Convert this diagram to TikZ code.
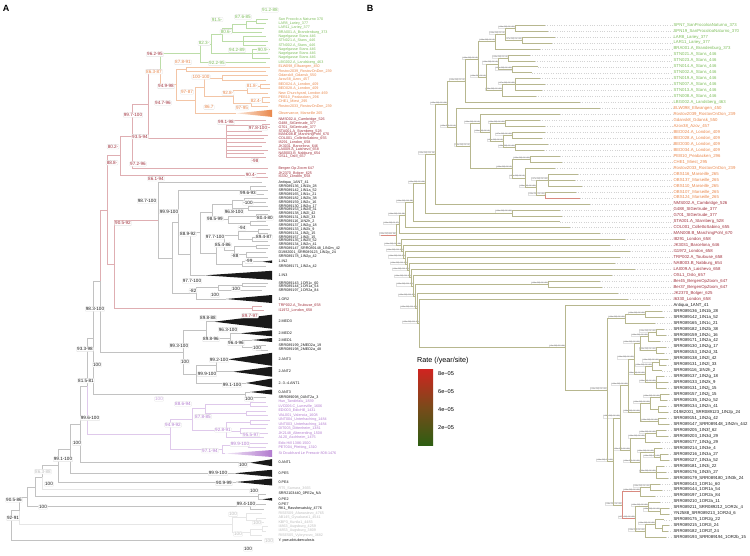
\documentclass[tikz,border=0pt]{standalone}
\usepackage{fontspec}
\setmainfont{Liberation Sans}
\definecolor{gT}{HTML}{7DBD5A}\definecolor{gL}{HTML}{BCDDA8}
\definecolor{oT}{HTML}{E9874B}\definecolor{oL}{HTML}{F3C5A6}
\definecolor{rT}{HTML}{A0303C}\definecolor{rL}{HTML}{DFAEB2}
\definecolor{kT}{HTML}{1A1A1A}\definecolor{kL}{HTML}{C2C2C2}
\definecolor{pT}{HTML}{B27BCF}\definecolor{pL}{HTML}{DFC9EB}
\definecolor{hT}{HTML}{BDBDBD}\definecolor{hL}{HTML}{E6E6E6}
\definecolor{bL}{HTML}{B7B78F}\definecolor{bR}{HTML}{D98A80}
\definecolor{dotc}{HTML}{D3D3D3}\definecolor{boxc}{HTML}{E2E2E2}
\definecolor{legtop}{HTML}{D02420}\definecolor{legmid}{HTML}{7A4A1A}\definecolor{legbot}{HTML}{2E5E12}
\tikzset{
 alab/.style={anchor=west,inner sep=0.3pt,font=\fontsize{3.7}{4}\selectfont},
 blab/.style={anchor=west,inner sep=0.4pt,font=\fontsize{4.3}{5}\selectfont},
 bsbox/.style={draw=boxc,fill=white,rounded corners=0.8pt,inner sep=0.7pt,line width=0.3pt,font=\fontsize{4.6}{5}\selectfont},
 brl/.style={draw=boxc,fill=white,inner sep=0.3pt,line width=0.2pt,font=\fontsize{1.8}{2}\selectfont,text=black!70,anchor=south east},
 bline/.style={draw=bL,line width=0.45pt},
 leader/.style={draw=dotc,dotted,line width=0.35pt},
 panel/.style={font=\bfseries\fontsize{9}{10}\selectfont,inner sep=0pt},
 legtick/.style={anchor=west,inner sep=0pt,font=\fontsize{5.6}{6}\selectfont},
}
\newcommand{\aLeaf}[5]{\coordinate (#1) at (#3,#2);\node[alab,text=#4] (#1l) at (278,#2) {#5};}
\newcommand{\aTri}[7]{\coordinate (#1) at (#3,#2);\fill[#5] (#1) -- (272,{#2-#4}) -- (272,{#2+#4}) -- cycle;\node[alab,text=#6] (#1l) at (278,#2) {#7};}
\newcommand{\aTriS}[7]{\coordinate (#1) at (#3,#2);\shade[left color=#5,right color=#6] (#1) -- (272,{#2-#4}) -- (272,{#2+#4}) -- cycle;\node[alab,text=#6] (#1l) at (278,#2) {#7};}
\newcommand{\aNode}[3]{\coordinate (#1) at (#2,#3);}
\newcommand{\aEdge}[3]{\draw[#1,line width=0.45pt] (#2) |- (#3);}
\newcommand{\bsb}[5]{\node[bsbox,text=#4] (#1) at (#2,#3) {#5};}
\newcommand{\bLeaf}[4]{\coordinate (b#1) at (#2,{25+(#1-1)*5.96});\node[blab,text=#3] (bl#1) at (673,{25+(#1-1)*5.96}) {#4};\draw[leader] (b#1) -- (bl#1.west);}
\newcommand{\bNode}[4]{\coordinate (#1) at (#2,{25+(#3-1)*5.96});\node[brl] (t#1) at (#1) {#4};}
\newcommand{\bNodeN}[3]{\coordinate (#1) at (#2,{25+(#3-1)*5.96});}
\newcommand{\bEdge}[2]{\draw[bline] (#1) |- (#2);}
\newcommand{\bEdgeR}[2]{\draw[bline,draw=bR] (#1) |- (#2);}
\begin{document}
\begin{tikzpicture}[x=1pt,y=-1pt]
\useasboundingbox (0,0) rectangle (750,555);
\node[panel] (PA) at (6,8) {A};
\node[panel] (PB) at (370,8) {B};
% ================= PANEL A : leaves =================
\aLeaf{g1}{19.3}{268}{gT}{San Procolo a Naturno 370}
\aLeaf{g2}{23.6}{266}{gT}{LAR8\_Lariey\_377}
\aLeaf{g3}{27.9}{264}{gT}{LAR11\_Lariey\_377}
\aLeaf{g4}{32.2}{262}{gT}{BRA001.A\_Brandenburg\_373}
\aLeaf{g5}{36.5}{266}{gT}{Nagelgasse Stans 446}
\aLeaf{g6}{40.8}{268}{gT}{STN021.A\_Stans\_446}
\aLeaf{g7}{45.1}{266}{gT}{STN002.A\_Stans\_446}
\aLeaf{g8}{49.4}{270}{gT}{Nagelgasse Stans 446}
\aLeaf{g9}{53.7}{268}{gT}{Nagelgasse Stans 446}
\aLeaf{g10}{58.0}{270}{gT}{Nagelgasse Stans 446}
\aLeaf{g11}{62.3}{266}{gT}{LBG002.A\_Landsberg\_463}
\aLeaf{o1}{67.0}{270}{oT}{ELW098\_Ellwangen\_450}
\aLeaf{o2}{71.3}{266}{oT}{Rostov2039\_RostovOnDon\_239}
\aLeaf{o3}{75.7}{268}{oT}{Gdansk8\_Gdansk\_550}
\aLeaf{o4}{80.0}{266}{oT}{Azov38\_Azov\_457}
\aLeaf{o5}{84.3}{270}{oT}{BED024.A\_London\_409}
\aLeaf{o6}{88.7}{270}{oT}{BED028.A\_London\_409}
\aLeaf{o7}{93.1}{268}{oT}{New Churchyard, London 469}
\aLeaf{o8}{97.6}{270}{oT}{PEB10\_Peabacken\_296}
\aLeaf{o9}{102.0}{270}{oT}{CHE1\_Miest\_295}
\aLeaf{o10}{106.5}{268}{oT}{Rostov2033\_RostovOnDon\_239}
\aTriS{o11}{113.3}{236}{3.6}{oL!40}{oT}{Observance, Marseille 265}
\aLeaf{r1}{120.0}{266}{rT}{NMS002.A\_Cambridge\_526}
\aLeaf{r2}{123.8}{270}{rT}{G488\_StGertrude\_377}
\aLeaf{r3}{127.6}{270}{rT}{G701\_StGertrude\_377}
\aLeaf{r4}{131.3}{262}{rT}{STA001.A\_Starnberg\_528}
\aLeaf{r5}{135.0}{268}{rT}{MAN008.B\_MarchingPohl\_670}
\aLeaf{r6}{138.7}{264}{rT}{COL001\_CollettoSabino\_655}
\aLeaf{r7}{142.4}{266}{rT}{I8291\_London\_658}
\aLeaf{r8}{146.1}{262}{rT}{JK3031\_Barcelona\_646}
\aLeaf{r9}{149.8}{268}{rT}{LAI009.A\_Laishevo\_658}
\aLeaf{r10}{153.4}{264}{rT}{NAB003.B\_Nabburg\_654}
\aLeaf{r11}{157.0}{266}{rT}{OSL1\_Oslo\_657}
\aLeaf{r12}{168.3}{268}{rT}{Bergen Op Zoom 647}
\aLeaf{r13}{173.3}{266}{rT}{JK2370\_Bolger\_625}
\aLeaf{r14}{177.0}{268}{rT}{I6330\_London\_658}
\aLeaf{k0}{182.7}{262}{kT}{Antiqua\_1ANT\_41}
\aLeaf{k1}{186.7}{266}{kT}{SRR089136\_1IN1b\_28}
\aLeaf{k2}{190.6}{268}{kT}{SRR089142\_1IN1a\_52}
\aLeaf{k3}{194.4}{264}{kT}{SRR089165\_1IN1c\_21}
\aLeaf{k4}{198.3}{268}{kT}{SRR089182\_1IN2b\_38}
\aLeaf{k5}{202.2}{266}{kT}{SRR089159\_1IN2c\_16}
\aLeaf{k6}{206.1}{268}{kT}{SRR089130\_1IN2g\_17}
\aLeaf{k7}{210.0}{270}{kT}{SRR089153\_1IN2d\_31}
\aLeaf{k8}{213.8}{268}{kT}{SRR089138\_1IN2l\_42}
\aLeaf{k9}{217.7}{270}{kT}{SRR089131\_1IN2l\_33}
\aLeaf{k10}{221.6}{266}{kT}{SRR089116\_1IN2h\_2}
\aLeaf{k11}{225.4}{268}{kT}{SRR089137\_1IN2g\_18}
\aLeaf{k12}{229.3}{270}{kT}{SRR089133\_1IN2k\_9}
\aLeaf{k13}{233.2}{268}{kT}{SRR089131\_1IN2j\_15}
\aLeaf{k14}{237.1}{266}{kT}{SRR089157\_1IN2j\_15}
\aLeaf{k15}{240.9}{268}{kT}{SRR089135\_1IN2o\_52}
\aLeaf{k16}{244.8}{270}{kT}{SRR089134\_1IN2n\_41}
\aLeaf{k17}{248.3}{268}{kT}{SRR089147\_SRR089148\_1IN2m\_42}
\aLeaf{k18}{252.4}{266}{kT}{D1982001\_SRR089123\_1IN2p\_24}
\aLeaf{k19}{257.0}{268}{kT}{SRR089178\_1IN2p\_42}
\aTri{k20}{261.7}{262}{1.3}{kT}{kT}{1.IN2}
\aLeaf{k21}{266.7}{266}{kT}{SRR089171\_1IN2a\_42}
\aTri{k22}{275.3}{205}{4.5}{kT}{kT}{1.IN3}
\aLeaf{k23}{283.3}{268}{kT}{SRR089143\_1OR1c\_60}
\aLeaf{k24}{286.7}{266}{kT}{SRR089144\_1OR1a\_54}
\aLeaf{k25}{290.1}{262}{kT}{SRR089197\_1OR2a\_84}
\aTri{k26}{299.0}{226}{4}{kT}{kT}{1.OR2}
\aLeaf{t1}{306.0}{262}{rT}{TRP002.A\_Toulouse\_658}
\aLeaf{t2}{310.3}{264}{rT}{I11972\_London\_658}
\aTri{e1}{321.7}{214}{7}{kT}{kT}{2.MED3}
\aTri{e2}{333.3}{240}{3}{kT}{kT}{2.MED2}
\aTri{e3}{340.0}{252}{2}{kT}{kT}{2.MED1}
\aLeaf{e4}{345.3}{266}{kT}{SRR089199\_2MED2a\_19}
\aLeaf{e5}{350.0}{268}{kT}{SRR089198\_2MED2a\_48}
\aTri{e6}{359.3}{228}{6.5}{kT}{kT}{2.ANT3}
\aTri{e7}{371.7}{233}{5}{kT}{kT}{2.ANT2}
\aTri{e8}{383.0}{246}{4.5}{kT}{kT}{2.-3.-4.ANT1}
\aTri{e9}{392.0}{250}{2.5}{kT}{kT}{0.ANT3}
\aLeaf{e10}{397.3}{266}{kT}{SRR089098\_0ANT2a\_3}
\aLeaf{p1}{402.0}{266}{pT}{Hun\_Tandirfalu\_1839}
\aLeaf{p2}{406.5}{268}{pT}{LVC006.C\_Luneville\_1606}
\aLeaf{p3}{410.9}{266}{pT}{EDI003\_EdixHill\_1431}
\aLeaf{p4}{415.3}{268}{pT}{VAL001\_Valencia\_1608}
\aLeaf{p5}{419.8}{270}{pT}{UNT004\_Unterhaching\_1484}
\aLeaf{p6}{424.2}{268}{pT}{UNT003\_Unterhaching\_1484}
\aLeaf{p7}{428.7}{266}{pT}{DIT003\_Dittenheim\_1381}
\aLeaf{p8}{433.1}{268}{pT}{JK2148\_Altenerding\_1508}
\aLeaf{p9}{437.5}{264}{pT}{A120\_Aschheim\_1475}
\aLeaf{p10}{443.3}{268}{pT}{Edix Hill 1386-1500}
\aLeaf{p11}{447.5}{266}{pT}{PET004\_Pfetting\_1310}
\aTriS{p12}{453.5}{225}{3.5}{pL!40}{pT}{St Doulchard Le Pressoir 808-1476}
\aTri{x1}{462.7}{250}{3.5}{kT}{kT}{0.ANT1}
\aTri{x2}{473.3}{234}{3.5}{kT}{kT}{0.PE5}
\aTri{x3}{482.0}{236}{3.5}{kT}{kT}{0.PE4}
\aLeaf{x4}{489.0}{258}{hT}{RT5\_Samara\_3665}
\aLeaf{x5}{494.0}{266}{kT}{SRR2103440\_0PE2a\_NA}
\aTri{x6}{499.3}{262}{1.3}{kT}{kT}{0.PE2}
\aLeaf{x7}{504.3}{266}{kT}{0.PE7}
\aLeaf{x8}{509.0}{264}{kT}{RK1\_Rasshevatskiy\_4776}
\aLeaf{h1}{513.7}{262}{hT}{RISE509\_Afanasievo\_4765}
\aLeaf{h2}{518.0}{266}{hT}{AB145\_Gyvakarai1\_4541}
\aLeaf{h3}{522.3}{264}{hT}{KBP3\_Kunila1\_4483}
\aLeaf{h4}{526.7}{268}{hT}{I4863\_Augsburg\_4259}
\aLeaf{h5}{531.0}{266}{hT}{I4853\_Augsburg\_3809}
\aLeaf{h6}{535.3}{262}{hT}{RISE505\_Vybrynovo\_3682}
\aLeaf{y1}{540.7}{262}{kT}{Y. pseudotuberculosis}
% ================= PANEL A : internal nodes =================
\aNode{nA}{256}{21.45}\aNode{nB}{246}{24.7}\aNode{nC}{232}{28.45}\aNode{nD}{243}{40.8}
\aNode{nE}{222}{34.6}\aNode{nF}{252}{53.7}\aNode{nG}{211}{44.2}\aNode{nH}{200}{53.2}
\aNode{oA}{260}{86.5}\aNode{oB}{247}{89.8}\aNode{oC}{262}{99.8}\aNode{oD}{251}{103.2}
\aNode{oE}{233}{96.5}\aNode{oF}{222}{77.85}\aNode{oG}{204}{87.2}\aNode{oH}{195}{100.2}
\aNode{oI}{186}{69.15}\aNode{oJ}{176}{84.7}\aNode{GO}{160}{69}
\aNode{rA}{262}{125.7}\aNode{rP}{226}{138.5}\aNode{GOR}{148}{103.75}\aNode{S1}{132}{136}
\aNode{rR}{252}{175.15}\aNode{S2}{120}{155.6}
\aNode{kI1}{250}{190.6}\aNode{q1}{244}{200.25}\aNode{q2}{248}{208.05}\aNode{q3}{232}{204.15}
\aNode{q4}{256}{215.75}\aNode{q5}{250}{223.5}\aNode{q6}{228}{219.6}\aNode{q7}{212}{211.9}
\aNode{q8}{258}{231.25}\aNode{q9}{252}{239}\aNode{q10}{238}{235.1}\aNode{q11}{256}{246.55}
\aNode{q12}{246}{254.7}\aNode{q13}{234}{250.6}\aNode{q14}{224}{242.85}\aNode{q15}{242}{264.2}
\aNode{q16}{216}{253.5}\aNode{kIN2}{200}{232.7}\aNode{kIN23}{190}{254}\aNode{kI}{178}{222.3}
\aNode{kO1}{242}{285}\aNode{kO2}{218}{287.55}\aNode{kOR}{196}{293.3}\aNode{kY}{172}{257.8}
\aNode{kBK}{158}{220.25}\aNode{T}{252}{308.15}\aNode{X}{114}{264.2}\aNode{S3}{107}{210}
\aNode{m1}{256}{347.65}\aNode{m2}{242}{343.8}\aNode{m3}{230}{338.55}\aNode{m4}{206}{330.1}
\aNode{a1}{216}{365.5}\aNode{a2}{196}{374.25}\aNode{MA}{183}{352.2}\aNode{S4}{100}{281}
\aNode{z1}{245}{394.65}\aNode{S5}{93}{337.8}
\aNode{pp1}{250}{404.25}\aNode{pp2}{246}{413.1}\aNode{pA}{205}{408.7}\aNode{pB}{250}{422}
\aNode{pC}{240}{430.9}\aNode{pD}{226}{429.8}\aNode{pE}{192}{419.25}\aNode{pF}{248}{445.4}
\aNode{pG}{222}{449.45}\aNode{pH}{170}{434.35}
\aNode{S6}{87}{386}\aNode{S7}{80}{424.3}\aNode{S8}{70}{448.8}\aNode{S9}{58}{465.4}
\aNode{S10}{42}{477.2}\aNode{eA}{258}{496.65}\aNode{S11}{35}{486.9}\aNode{eB}{250}{506.65}
\aNode{S12}{27}{496.8}\aNode{hh1}{256}{520.15}\aNode{hh2}{246}{516.9}\aNode{hh3}{262}{528.85}
\aNode{hh4}{250}{532.1}\aNode{hR}{232}{524.5}\aNode{S13}{19}{510.65}\aNode{root}{11}{525.7}
% ================= PANEL A : edges =================
\aEdge{gL}{nA}{g1}\aEdge{gL}{nA}{g2}\aEdge{gL}{nB}{nA}\aEdge{gL}{nB}{g3}
\aEdge{gL}{nC}{nB}\aEdge{gL}{nC}{g4}\aEdge{gL}{nD}{g5}\aEdge{gL}{nD}{g6}\aEdge{gL}{nD}{g7}
\aEdge{gL}{nE}{nC}\aEdge{gL}{nE}{nD}\aEdge{gL}{nF}{g8}\aEdge{gL}{nF}{g9}\aEdge{gL}{nF}{g10}
\aEdge{gL}{nG}{nE}\aEdge{gL}{nG}{nF}\aEdge{gL}{nH}{nG}\aEdge{gL}{nH}{g11}
\aEdge{oL}{oA}{o5}\aEdge{oL}{oA}{o6}\aEdge{oL}{oB}{oA}\aEdge{oL}{oB}{o7}
\aEdge{oL}{oC}{o8}\aEdge{oL}{oC}{o9}\aEdge{oL}{oD}{oC}\aEdge{oL}{oD}{o10}
\aEdge{oL}{oE}{oB}\aEdge{oL}{oE}{oD}\aEdge{oL}{oF}{o3}\aEdge{oL}{oF}{o4}
\aEdge{oL}{oG}{oF}\aEdge{oL}{oG}{oE}\aEdge{oL}{oH}{oG}\aEdge{oL}{oH}{o11}
\aEdge{oL}{oI}{o1}\aEdge{oL}{oI}{o2}\aEdge{oL}{oJ}{oI}\aEdge{oL}{oJ}{oH}
\aEdge{gL}{GO}{nH}\aEdge{oL}{GO}{oJ}
\aEdge{rL}{rA}{r2}\aEdge{rL}{rA}{r3}
\aEdge{rL}{rP}{r1}\aEdge{rL}{rP}{rA}\aEdge{rL}{rP}{r4}\aEdge{rL}{rP}{r5}\aEdge{rL}{rP}{r6}
\aEdge{rL}{rP}{r7}\aEdge{rL}{rP}{r8}\aEdge{rL}{rP}{r9}\aEdge{rL}{rP}{r10}\aEdge{rL}{rP}{r11}
\aEdge{rL}{GOR}{GO}\aEdge{rL}{GOR}{rP}\aEdge{rL}{S1}{GOR}\aEdge{rL}{S1}{r12}
\aEdge{rL}{rR}{r13}\aEdge{rL}{rR}{r14}\aEdge{rL}{S2}{S1}\aEdge{rL}{S2}{rR}
\aEdge{kL}{kI1}{k1}\aEdge{kL}{kI1}{k2}\aEdge{kL}{kI1}{k3}
\aEdge{kL}{q1}{k4}\aEdge{kL}{q1}{k5}\aEdge{kL}{q2}{k6}\aEdge{kL}{q2}{k7}
\aEdge{kL}{q3}{q1}\aEdge{kL}{q3}{q2}\aEdge{kL}{q4}{k8}\aEdge{kL}{q4}{k9}
\aEdge{kL}{q5}{k10}\aEdge{kL}{q5}{k11}\aEdge{kL}{q6}{q4}\aEdge{kL}{q6}{q5}
\aEdge{kL}{q7}{q3}\aEdge{kL}{q7}{q6}\aEdge{kL}{q8}{k12}\aEdge{kL}{q8}{k13}
\aEdge{kL}{q9}{k14}\aEdge{kL}{q9}{k15}\aEdge{kL}{q10}{q8}\aEdge{kL}{q10}{q9}
\aEdge{kL}{q11}{k16}\aEdge{kL}{q11}{k17}\aEdge{kL}{q12}{k18}\aEdge{kL}{q12}{k19}
\aEdge{kL}{q13}{q11}\aEdge{kL}{q13}{q12}\aEdge{kL}{q14}{q10}\aEdge{kL}{q14}{q13}
\aEdge{kL}{q15}{k20}\aEdge{kL}{q15}{k21}\aEdge{kL}{q16}{q14}\aEdge{kL}{q16}{q15}
\aEdge{kL}{kIN2}{q7}\aEdge{kL}{kIN2}{q16}\aEdge{kL}{kIN23}{kIN2}\aEdge{kL}{kIN23}{k22}
\aEdge{kL}{kI}{kI1}\aEdge{kL}{kI}{kIN23}
\aEdge{kL}{kO1}{k23}\aEdge{kL}{kO1}{k24}\aEdge{kL}{kO2}{kO1}\aEdge{kL}{kO2}{k25}
\aEdge{kL}{kOR}{kO2}\aEdge{kL}{kOR}{k26}\aEdge{kL}{kY}{kI}\aEdge{kL}{kY}{kOR}
\aEdge{kL}{kBK}{k0}\aEdge{kL}{kBK}{kY}
\aEdge{rL}{T}{t1}\aEdge{rL}{T}{t2}\aEdge{rL}{X}{kBK}\aEdge{rL}{X}{T}
\aEdge{rL}{S3}{S2}\aEdge{rL}{S3}{X}
\aEdge{kL}{m1}{e4}\aEdge{kL}{m1}{e5}\aEdge{kL}{m2}{e3}\aEdge{kL}{m2}{m1}
\aEdge{kL}{m3}{e2}\aEdge{kL}{m3}{m2}\aEdge{kL}{m4}{e1}\aEdge{kL}{m4}{m3}
\aEdge{kL}{a1}{e6}\aEdge{kL}{a1}{e7}\aEdge{kL}{a2}{a1}\aEdge{kL}{a2}{e8}
\aEdge{kL}{MA}{m4}\aEdge{kL}{MA}{a2}\aEdge{rL}{S4}{S3}\aEdge{kL}{S4}{MA}
\aEdge{kL}{z1}{e9}\aEdge{kL}{z1}{e10}\aEdge{kL}{S5}{S4}\aEdge{kL}{S5}{z1}
\aEdge{pL}{pp1}{p1}\aEdge{pL}{pp1}{p2}\aEdge{pL}{pp2}{p3}\aEdge{pL}{pp2}{p4}
\aEdge{pL}{pA}{pp1}\aEdge{pL}{pA}{pp2}\aEdge{pL}{pB}{p5}\aEdge{pL}{pB}{p6}
\aEdge{pL}{pC}{p7}\aEdge{pL}{pC}{p8}\aEdge{pL}{pD}{pB}\aEdge{pL}{pD}{pC}\aEdge{pL}{pD}{p9}
\aEdge{pL}{pE}{pA}\aEdge{pL}{pE}{pD}\aEdge{pL}{pF}{p10}\aEdge{pL}{pF}{p11}
\aEdge{pL}{pG}{pF}\aEdge{pL}{pG}{p12}\aEdge{pL}{pH}{pE}\aEdge{pL}{pH}{pG}
\aEdge{kL}{S6}{S5}\aEdge{pL}{S6}{pH}\aEdge{kL}{S7}{S6}\aEdge{kL}{S7}{x1}
\aEdge{kL}{S8}{S7}\aEdge{kL}{S8}{x2}\aEdge{kL}{S9}{S8}\aEdge{kL}{S9}{x3}
\aEdge{kL}{S10}{S9}\aEdge{hL}{S10}{x4}\aEdge{kL}{eA}{x5}\aEdge{kL}{eA}{x6}
\aEdge{kL}{S11}{S10}\aEdge{kL}{S11}{eA}\aEdge{kL}{eB}{x7}\aEdge{kL}{eB}{x8}
\aEdge{kL}{S12}{S11}\aEdge{kL}{S12}{eB}
\aEdge{hL}{hh1}{h2}\aEdge{hL}{hh1}{h3}\aEdge{hL}{hh2}{h1}\aEdge{hL}{hh2}{hh1}
\aEdge{hL}{hh3}{h4}\aEdge{hL}{hh3}{h5}\aEdge{hL}{hh4}{hh3}\aEdge{hL}{hh4}{h6}
\aEdge{hL}{hR}{hh2}\aEdge{hL}{hR}{hh4}\aEdge{kL}{S13}{S12}\aEdge{hL}{S13}{hR}
\aEdge{kL}{root}{S13}\aEdge{kL}{root}{y1}
% ================= PANEL A : support boxes =================
\bsb{bg1}{270}{10}{gT}{91.2-88}\bsb{bg2}{243}{17}{gT}{87.6-85}\bsb{bg3}{217}{19.5}{gT}{91.5-}
\bsb{bg4}{226}{31.7}{gT}{80.6-}\bsb{bg5}{204}{43.3}{gT}{82.3-}\bsb{bg6}{237}{50.3}{gT}{94.2-89}
\bsb{bg7}{263}{50}{gT}{90.9-}\bsb{bg8}{217}{63.3}{gT}{92.2-95}
\bsb{bo1}{183}{62.3}{oT}{87.8-91}\bsb{bo2}{154}{71.7}{oT}{86.3-87}\bsb{bo3}{201}{77}{oT}{100-100}
\bsb{bo4}{187}{92}{oT}{97-87}\bsb{bo5}{252}{86}{oT}{81.8-}\bsb{bo6}{228}{93.3}{oT}{92.8-}
\bsb{bo7}{209}{107.3}{oT}{86.7}\bsb{bo8}{242}{107.7}{oT}{97-95}\bsb{bo9}{256}{101}{oT}{82.4-}
\bsb{br1}{155}{54.3}{rT}{96.2-95}\bsb{br2}{166}{86.3}{rT}{94.9-98}\bsb{br3}{163}{103}{rT}{94.7-96}
\bsb{br4}{133}{115}{rT}{99.7-100}\bsb{br5}{226}{122.3}{rT}{99.1-98}\bsb{br6}{258}{128}{rT}{97.8-100}
\bsb{br7}{140}{136.7}{rT}{93.5-94}\bsb{br8}{113}{146.7}{rT}{80.2-}\bsb{br9}{112}{162.7}{rT}{88.8-}
\bsb{br10}{138}{164}{rT}{97.2-96}\bsb{br11}{255}{160.7}{rT}{-98}\bsb{br12}{156}{178.7}{rT}{86.1-94}
\bsb{br13}{251}{175}{rT}{90.4-}\bsb{br14}{123}{223.3}{rT}{90.5-92}\bsb{br15}{250}{315.7}{rT}{89.7-97}
\bsb{bk1}{248}{193}{kT}{99.6-93}\bsb{bk2}{147}{201}{kT}{98.7-100}\bsb{bk3}{248}{203}{kT}{-100}
\bsb{bk4}{169}{211.7}{kT}{99.9-100}\bsb{bk5}{234}{211.7}{kT}{96.8-100}\bsb{bk6}{265}{218}{kT}{80.4-80}
\bsb{bk7}{215}{218.7}{kT}{98.5-99}\bsb{bk8}{242}{228}{kT}{-94}\bsb{bk9}{188}{234}{kT}{88.9-92}
\bsb{bk10}{215}{237}{kT}{97.7-100}\bsb{bk11}{264}{237}{kT}{89.4-87}\bsb{bk12}{223}{245}{kT}{85.4-86}
\bsb{bk13}{235}{255.7}{kT}{-88}\bsb{bk14}{249}{261.3}{kT}{-99}\bsb{bk15}{192}{281}{kT}{97.7-100}
\bsb{bk16}{236}{289}{kT}{100}\bsb{bk17}{193}{290.7}{kT}{-82}\bsb{bk18}{215}{295.3}{kT}{100}
\bsb{bk19}{95}{309}{kT}{98.3-100}\bsb{bk20}{208}{317.7}{kT}{89.8-88}\bsb{bk21}{228}{329.7}{kT}{96.3-100}
\bsb{bk22}{211}{339.3}{kT}{89.8-96}\bsb{bk23}{236}{343.3}{kT}{96.4-96}\bsb{bk24}{179}{345.7}{kT}{99.3-100}
\bsb{bk25}{257}{348}{kT}{100}\bsb{bk26}{85}{349.3}{kT}{93.3-98}\bsb{bk27}{219}{360}{kT}{99.2-100}
\bsb{bk28}{185}{361.7}{kT}{100}\bsb{bk29}{97}{364.7}{kT}{100}\bsb{bk30}{207}{374.3}{kT}{99.9-100}
\bsb{bk31}{86}{380.7}{kT}{81.5-81}\bsb{bk32}{232}{385}{kT}{99.1-100}\bsb{bk33}{249}{399}{kT}{100}
\bsb{bk34}{90}{418.3}{kT}{99.6-100}\bsb{bk35}{77}{443.3}{kT}{100}\bsb{bk36}{63}{459.3}{kT}{99.1-100}
\bsb{bk37}{243}{465}{kT}{100}\bsb{bk38}{218}{473.3}{kT}{99.9-100}\bsb{bk39}{224}{483.3}{kT}{90.9-99}
\bsb{bk40}{49}{484}{kT}{100}\bsb{bk41}{254}{491}{kT}{100}\bsb{bk42}{14}{500}{kT}{90.5-86}
\bsb{bk43}{246}{504}{kT}{99.4-100}\bsb{bk44}{43}{507}{kT}{100}\bsb{bk45}{13}{518.3}{kT}{92-91}
\bsb{bk46}{248}{549}{kT}{100}
\bsb{bp1}{159}{399}{pT!70}{100}\bsb{bp2}{183}{404}{pT}{88.6-94}\bsb{bp3}{203}{416.7}{pT}{87.8-85}
\bsb{bp4}{173}{425}{pT}{94.9-92}\bsb{bp5}{223}{430}{pT}{92.8-91}\bsb{bp6}{251}{434.5}{pT}{95.5-97}
\bsb{bp7}{240}{444.3}{pT}{99.9-100}\bsb{bp8}{210}{450.7}{pT}{97.1-94}
\bsb{bh1}{43}{471.7}{hT}{86.3-88}\bsb{bh2}{233}{514.3}{hT}{100}\bsb{bh3}{257}{522.7}{hT}{100}
\bsb{bh4}{238}{534}{hT}{100}\bsb{bh5}{269}{540.7}{hT}{100}
% ================= PANEL B : leaves =================
\bLeaf{1}{545}{gT}{SPN7\_SanProcoloaNaturno\_373}
\bLeaf{2}{548}{gT}{SPN19\_SanProcoloaNaturno\_370}
\bLeaf{3}{555}{gT}{LAR8\_Lariey\_377}
\bLeaf{4}{552}{gT}{LAR11\_Lariey\_377}
\bLeaf{5}{540}{gT}{BRA001.A\_Brandenburg\_373}
\bLeaf{6}{530}{gT}{STN021.A\_Stans\_446}
\bLeaf{7}{535}{gT}{STN023.A\_Stans\_446}
\bLeaf{8}{538}{gT}{STN014.A\_Stans\_446}
\bLeaf{9}{532}{gT}{STN002.A\_Stans\_446}
\bLeaf{10}{540}{gT}{STN019.A\_Stans\_446}
\bLeaf{11}{545}{gT}{STN007.A\_Stans\_446}
\bLeaf{12}{542}{gT}{STN013.A\_Stans\_446}
\bLeaf{13}{536}{gT}{STN008.A\_Stans\_446}
\bLeaf{14}{580}{gT}{LBG002.A\_Landsberg\_463}
\bLeaf{15}{600}{oT}{ELW098\_Ellwangen\_450}
\bLeaf{16}{560}{oT}{Rostov2039\_RostovOnDon\_239}
\bLeaf{17}{540}{oT}{Gdansk8\_Gdansk\_550}
\bLeaf{18}{545}{oT}{Azov38\_Azov\_457}
\bLeaf{19}{545}{oT}{BED024.A\_London\_409}
\bLeaf{20}{542}{oT}{BED028.A\_London\_409}
\bLeaf{21}{548}{oT}{BED030.A\_London\_409}
\bLeaf{22}{544}{oT}{BED034.A\_London\_409}
\bLeaf{23}{560}{oT}{PEB10\_Peabacken\_296}
\bLeaf{24}{562}{oT}{CHE1\_Miest\_295}
\bLeaf{25}{555}{oT}{Rostov2033\_RostovOnDon\_239}
\bLeaf{26}{578}{oT}{OBS116\_Marseille\_265}
\bLeaf{27}{575}{oT}{OBS137\_Marseille\_265}
\bLeaf{28}{582}{oT}{OBS110\_Marseille\_265}
\bLeaf{29}{576}{oT}{OBS107\_Marseille\_265}
\bLeaf{30}{580}{oT}{OBS124\_Marseille\_265}
\bLeaf{31}{590}{rT}{NMS002.A\_Cambridge\_526}
\bLeaf{32}{560}{rT}{G488\_StGertrude\_377}
\bLeaf{33}{562}{rT}{G701\_StGertrude\_377}
\bLeaf{34}{560}{rT}{STA001.A\_Starnberg\_528}
\bLeaf{35}{570}{rT}{COL001\_CollettoSabino\_655}
\bLeaf{36}{600}{rT}{MAN008.B\_MarchingPohl\_670}
\bLeaf{37}{625}{rT}{I8291\_London\_658}
\bLeaf{38}{610}{rT}{JK3031\_Barcelona\_646}
\bLeaf{39}{630}{rT}{I11972\_London\_658}
\bLeaf{40}{620}{rT}{TRP002.A\_Toulouse\_658}
\bLeaf{41}{615}{rT}{NAB003.B\_Nabburg\_654}
\bLeaf{42}{635}{rT}{LAI009.A\_Laishevo\_658}
\bLeaf{43}{612}{rT}{OSL1\_Oslo\_657}
\bLeaf{44}{600}{rT}{Ber45\_BergenOpZoom\_647}
\bLeaf{45}{602}{rT}{Ber37\_BergenOpZoom\_647}
\bLeaf{46}{618}{rT}{JK2370\_Bolger\_625}
\bLeaf{47}{628}{rT}{I6330\_London\_658}
\bLeaf{48}{650}{kT}{Antiqua\_1ANT\_41}
\bLeaf{49}{662}{kT}{SRR089136\_1IN1b\_28}
\bLeaf{50}{664}{kT}{SRR089142\_1IN1a\_52}
\bLeaf{51}{655}{kT}{SRR089165\_1IN1c\_21}
\bLeaf{52}{664}{kT}{SRR089182\_1IN2b\_38}
\bLeaf{53}{666}{kT}{SRR089159\_1IN2c\_16}
\bLeaf{54}{660}{kT}{SRR089171\_1IN2a\_42}
\bLeaf{55}{666}{kT}{SRR089130\_1IN2g\_17}
\bLeaf{56}{664}{kT}{SRR089153\_1IN2d\_31}
\bLeaf{57}{668}{kT}{SRR089138\_1IN2l\_42}
\bLeaf{58}{666}{kT}{SRR089131\_1IN2l\_33}
\bLeaf{59}{662}{kT}{SRR089116\_1IN2h\_2}
\bLeaf{60}{664}{kT}{SRR089137\_1IN2g\_18}
\bLeaf{61}{668}{kT}{SRR089133\_1IN2k\_9}
\bLeaf{62}{666}{kT}{SRR089131\_1IN2j\_15}
\bLeaf{63}{669}{kT}{SRR089157\_1IN2j\_15}
\bLeaf{64}{667}{kT}{SRR089135\_1IN2o\_52}
\bLeaf{65}{666}{kT}{SRR089134\_1IN2n\_41}
\bLeaf{66}{668}{kT}{D1982001\_SRR089123\_1IN2p\_24}
\bLeaf{67}{666}{kT}{SRR089151\_1IN2q\_42}
\bLeaf{68}{669}{kT}{SRR089147\_SRR089148\_1IN2m\_442}
\bLeaf{69}{666}{kT}{SRR089205\_1IN3f\_62}
\bLeaf{70}{668}{kT}{SRR089203\_1IN3d\_29}
\bLeaf{71}{660}{kT}{SRR089177\_1IN3g\_29}
\bLeaf{72}{662}{kT}{SRR089214\_1IN3e\_4}
\bLeaf{73}{668}{kT}{SRR089216\_1IN3a\_27}
\bLeaf{74}{669}{kT}{SRR089127\_1IN3a\_52}
\bLeaf{75}{664}{kT}{SRR089181\_1IN3i\_22}
\bLeaf{76}{666}{kT}{SRR089176\_1IN3h\_27}
\bLeaf{77}{668}{kT}{SRR089179\_SRR089180\_1IN3k\_24}
\bLeaf{78}{660}{kT}{SRR089143\_1OR1c\_60}
\bLeaf{79}{662}{kT}{SRR089144\_1OR1a\_54}
\bLeaf{80}{655}{kT}{SRR089197\_1OR2a\_84}
\bLeaf{81}{660}{kT}{SRR089210\_1OR2a\_11}
\bLeaf{82}{669}{kT}{SRR089211\_SRR089212\_1OR2c\_4}
\bLeaf{83}{669}{kT}{YN2588\_SRR089213\_1OR2d\_6}
\bLeaf{84}{664}{kT}{SRR089175\_1OR2g\_22}
\bLeaf{85}{669}{kT}{SRR089215\_1OR2i\_24}
\bLeaf{86}{668}{kT}{SRR089182\_1OR2f\_24}
\bLeaf{87}{666}{kT}{SRR089193\_SRR089194\_1OR2b\_15}
% ================= PANEL B : internal nodes =================
\bNode{Bg1}{515}{1.5}{1.16e-05(1.03-1.31)}\bNode{Bg2}{522}{3.5}{1.17e-05(1.04-1.32)}
\bNode{Bg3}{505}{2.5}{1.16e-05(1.02-1.3)}\bNode{Bg4}{495}{3.75}{1.16e-05(1.03-1.3)}
\bNode{Bs1}{508}{6.5}{1.15e-05(1.02-1.3)}\bNode{Bs2}{512}{8.5}{1.16e-05(1.03-1.31)}
\bNode{Bs3}{498}{7.5}{1.16e-05(1.03-1.3)}\bNode{Bs4}{515}{11}{1.17e-05(1.03-1.32)}
\bNode{Bs5}{502}{12}{1.16e-05(1.02-1.31)}\bNode{Bs6}{486}{9.75}{1.16e-05(1.03-1.3)}
\bNode{Bg5}{478}{6.75}{1.16e-05(1.03-1.3)}\bNode{Bg6}{465}{10.375}{1.15e-05(1.02-1.3)}
\bNode{Bo1}{505}{17.5}{1.16e-05(1.03-1.31)}\bNode{Bo2}{512}{19.5}{1.17e-05(1.03-1.31)}
\bNode{Bo3}{515}{21.5}{1.16e-05(1.02-1.31)}\bNode{Bo4}{503}{20.5}{1.16e-05(1.03-1.3)}
\bNode{Bo5}{490}{19}{1.16e-05(1.03-1.3)}\bNode{Bo6}{480}{17.5}{1.16e-05(1.03-1.3)}
\bNode{Bo7}{530}{23.5}{1.16e-05(1.03-1.31)}\bNode{Bo8}{548}{27}{1.17e-05(1.03-1.32)}
\bNode{Bo9}{545}{29.5}{1.16e-05(1.03-1.31)}\bNode{Bo10}{536}{28.25}{1.16e-05(1.03-1.31)}
\bNode{Bo11}{525}{26.625}{1.16e-05(1.03-1.3)}\bNode{Bo12}{512}{25.06}{1.16e-05(1.03-1.3)}
\bNode{Bo13}{470}{21.28}{1.16e-05(1.03-1.3)}\bNode{Bo14}{456}{18.14}{1.15e-05(1.02-1.3)}
\bNode{Bgo}{447}{14.26}{1.15e-05(1.02-1.29)}
\bNode{C31}{435}{22.63}{1.15e-05(1.02-1.29)}\bNode{Br1}{512}{32.5}{1.16e-05(1.03-1.31)}
\bNode{C32}{425}{27.565}{1.15e-05(1.02-1.29)}\bNode{C34}{413}{30.78}{1.14e-05(1.01-1.28)}
\bNode{C35}{405}{32.89}{1.14e-05(1.01-1.28)}\bNode{C36}{399}{34.45}{1.13e-05(1.0-1.27)}
\bNode{D37}{401}{38.0}{1.14e-05(1.01-1.28)}\bNode{D38}{403}{39.03}{1.14e-05(1.01-1.28)}
\bNode{D39}{405}{40.05}{1.14e-05(1.01-1.28)}\bNode{D40}{407}{41.1}{1.14e-05(1.01-1.28)}
\bNode{D41}{409}{42.2}{1.14e-05(1.01-1.28)}\bNode{D42}{411}{43.375}{1.14e-05(1.01-1.28)}
\bNode{D43}{413}{44.75}{1.15e-05(1.02-1.29)}\bNode{Br4}{548}{44.5}{1.16e-05(1.03-1.31)}
\bNode{D44}{415}{46.5}{1.15e-05(1.02-1.29)}\bNode{D46}{417}{48.5}{1.15e-05(1.02-1.29)}
\bNode{D47}{419}{51.05}{1.15e-05(1.02-1.29)}
\bNode{BAo}{565}{55.1}{1.2e-05(1.05-1.36)}\bNode{Bio}{607}{62.23}{1.16e-05(1.03-1.31)}
\bNode{Brest}{613}{74.2}{1.16e-05(1.03-1.31)}\bNode{Bin23}{620}{66.9}{1.16e-05(1.03-1.31)}
\bNode{Bi17}{628}{61.5}{1.16e-05(1.03-1.31)}\bNode{Bi11}{634}{57}{1.16e-05(1.03-1.31)}
\bNode{Bi6}{640}{54.375}{1.16e-05(1.03-1.31)}\bNode{Bi4}{648}{53.25}{1.16e-05(1.03-1.31)}
\bNode{Bi3}{656}{52.5}{1.16e-05(1.03-1.31)}\bNode{Bi5}{656}{55.5}{1.16e-05(1.03-1.31)}
\bNode{Bi10}{645}{59.625}{1.16e-05(1.03-1.31)}\bNode{Bi8}{652}{58.25}{1.16e-05(1.03-1.31)}
\bNode{Bi7}{659}{57.5}{1.16e-05(1.03-1.31)}\bNode{Bi9}{656}{61}{1.16e-05(1.03-1.31)}
\bNode{Bi16}{640}{66}{1.16e-05(1.03-1.31)}\bNode{Bi14}{650}{64.5}{1.16e-05(1.03-1.31)}
\bNode{Bi12}{660}{63.5}{1.16e-05(1.03-1.31)}\bNodeN{Bi13}{658}{65.5}
\bNode{Bi15}{658}{67.5}{1.16e-05(1.03-1.31)}\bNode{Bi25}{630}{72.31}{1.16e-05(1.03-1.31)}
\bNode{Bi24}{645}{70.25}{1.16e-05(1.03-1.31)}\bNode{Bi18}{656}{69.5}{1.16e-05(1.03-1.31)}
\bNode{Bi23}{640}{74.375}{1.16e-05(1.03-1.31)}\bNode{Bi21}{654}{72.75}{1.16e-05(1.03-1.31)}
\bNode{Bi20}{660}{73.5}{1.16e-05(1.03-1.31)}\bNode{Bi22}{656}{76}{1.16e-05(1.03-1.31)}
\bNode{Bi2}{625}{50.25}{1.16e-05(1.03-1.31)}\bNode{Bi1}{645}{49.5}{1.16e-05(1.03-1.31)}
\bNode{Bor8}{622}{81.53}{1.18e-05(1.04-1.33)}\bNode{Bor2}{640}{79.25}{1.16e-05(1.03-1.31)}
\bNode{Bor1}{650}{78.5}{1.16e-05(1.03-1.31)}\bNode{Bor7}{635}{83.81}{1.17e-05(1.03-1.32)}
\bNode{Bor4}{648}{81.75}{1.16e-05(1.03-1.31)}\bNode{Bor3}{660}{82.5}{1.16e-05(1.03-1.31)}
\bNode{Bor9}{645}{85.875}{1.16e-05(1.03-1.31)}\bNode{Bor6}{655}{84.75}{1.16e-05(1.03-1.31)}
\bNodeN{Bor5}{662}{85.5}
\bNode{Broot}{396}{36.2}{1.23e-05(0.83-1.59)}\bNodeN{Bstub}{381}{36.2}
% ================= PANEL B : edges =================
\bEdge{Bg1}{b1}\bEdge{Bg1}{b2}\bEdge{Bg2}{b3}\bEdge{Bg2}{b4}\bEdge{Bg3}{Bg1}\bEdge{Bg3}{Bg2}
\bEdge{Bg4}{Bg3}\bEdge{Bg4}{b5}\bEdge{Bs1}{b6}\bEdge{Bs1}{b7}\bEdge{Bs2}{b8}\bEdge{Bs2}{b9}
\bEdge{Bs3}{Bs1}\bEdge{Bs3}{Bs2}\bEdge{Bs4}{b10}\bEdge{Bs4}{b11}\bEdge{Bs4}{b12}
\bEdge{Bs5}{Bs4}\bEdge{Bs5}{b13}\bEdge{Bs6}{Bs3}\bEdge{Bs6}{Bs5}
\bEdge{Bg5}{Bg4}\bEdge{Bg5}{Bs6}\bEdge{Bg6}{Bg5}\bEdge{Bg6}{b14}
\bEdge{Bo1}{b17}\bEdge{Bo1}{b18}\bEdge{Bo2}{b19}\bEdge{Bo2}{b20}\bEdge{Bo3}{b21}\bEdge{Bo3}{b22}
\bEdge{Bo4}{Bo2}\bEdge{Bo4}{Bo3}\bEdge{Bo5}{Bo1}\bEdge{Bo5}{Bo4}\bEdge{Bo6}{b16}\bEdge{Bo6}{Bo5}
\bEdge{Bo7}{b23}\bEdge{Bo7}{b24}\bEdge{Bo8}{b26}\bEdge{Bo8}{b27}\bEdge{Bo8}{b28}
\bEdge{Bo9}{b29}\bEdgeR{Bo9}{b30}\bEdge{Bo10}{Bo8}\bEdge{Bo10}{Bo9}\bEdge{Bo11}{b25}\bEdge{Bo11}{Bo10}
\bEdge{Bo12}{Bo7}\bEdge{Bo12}{Bo11}\bEdge{Bo13}{Bo6}\bEdge{Bo13}{Bo12}\bEdge{Bo14}{b15}\bEdge{Bo14}{Bo13}
\bEdge{Bgo}{Bg6}\bEdge{Bgo}{Bo14}
\bEdge{Br1}{b32}\bEdge{Br1}{b33}
\bEdge{C31}{Bgo}\bEdge{C31}{b31}\bEdge{C32}{C31}\bEdge{C32}{Br1}
\bEdge{C34}{C32}\bEdge{C34}{b34}\bEdge{C35}{C34}\bEdge{C35}{b35}\bEdge{C36}{C35}\bEdge{C36}{b36}
\bEdge{Br4}{b44}\bEdge{Br4}{b45}
\bEdge{D37}{b37}\bEdge{D37}{D38}\bEdge{D38}{b38}\bEdge{D38}{D39}\bEdge{D39}{b39}\bEdge{D39}{D40}
\bEdge{D40}{b40}\bEdge{D40}{D41}\bEdge{D41}{b41}\bEdge{D41}{D42}\bEdge{D42}{b42}\bEdge{D42}{D43}
\bEdge{D43}{b43}\bEdge{D43}{D44}\bEdge{D44}{Br4}\bEdge{D44}{D46}\bEdge{D46}{b46}\bEdge{D46}{D47}
\bEdge{D47}{b47}\bEdge{D47}{BAo}
\bEdge{BAo}{b48}\bEdge{BAo}{Bio}\bEdge{Bio}{Bi2}\bEdge{Bio}{Brest}
\bEdge{Brest}{Bin23}\bEdge{Brest}{Bor8}
\bEdge{Bi1}{b49}\bEdge{Bi1}{b50}\bEdge{Bi2}{Bi1}\bEdge{Bi2}{b51}
\bEdge{Bi3}{b52}\bEdge{Bi3}{b53}\bEdge{Bi4}{Bi3}\bEdge{Bi4}{b54}\bEdge{Bi5}{b55}\bEdge{Bi5}{b56}
\bEdge{Bi6}{Bi4}\bEdge{Bi6}{Bi5}\bEdge{Bi7}{b57}\bEdge{Bi7}{b58}\bEdge{Bi8}{Bi7}\bEdge{Bi8}{b59}
\bEdge{Bi9}{b60}\bEdge{Bi9}{b61}\bEdge{Bi9}{b62}\bEdge{Bi10}{Bi8}\bEdge{Bi10}{Bi9}
\bEdge{Bi11}{Bi6}\bEdge{Bi11}{Bi10}\bEdge{Bi12}{b63}\bEdge{Bi12}{b64}\bEdge{Bi13}{b65}\bEdge{Bi13}{b66}
\bEdge{Bi14}{Bi12}\bEdge{Bi14}{Bi13}\bEdge{Bi15}{b67}\bEdge{Bi15}{b68}\bEdge{Bi16}{Bi14}\bEdge{Bi16}{Bi15}
\bEdge{Bi17}{Bi11}\bEdge{Bi17}{Bi16}\bEdge{Bi18}{b69}\bEdge{Bi18}{b70}\bEdge{Bi24}{Bi18}\bEdge{Bi24}{b71}
\bEdge{Bi20}{b73}\bEdge{Bi20}{b74}\bEdge{Bi21}{b72}\bEdge{Bi21}{Bi20}
\bEdge{Bi22}{b75}\bEdge{Bi22}{b76}\bEdge{Bi22}{b77}\bEdge{Bi23}{Bi21}\bEdge{Bi23}{Bi22}
\bEdge{Bi25}{Bi24}\bEdge{Bi25}{Bi23}\bEdge{Bin23}{Bi17}\bEdge{Bin23}{Bi25}
\bEdge{Bor1}{b78}\bEdge{Bor1}{b79}\bEdge{Bor2}{Bor1}\bEdge{Bor2}{b80}
\bEdge{Bor3}{b82}\bEdge{Bor3}{b83}\bEdge{Bor4}{b81}\bEdge{Bor4}{Bor3}
\bEdge{Bor5}{b85}\bEdge{Bor5}{b86}\bEdge{Bor6}{b84}\bEdge{Bor6}{Bor5}
\bEdge{Bor9}{Bor6}\bEdge{Bor9}{b87}
\bEdge{Bor7}{Bor4}\bEdge{Bor7}{Bor9}\bEdgeR{Bor8}{Bor2}\bEdgeR{Bor8}{Bor7}
\bEdge{Broot}{C36}\bEdge{Broot}{D37}
\draw[bline,draw=bR] (Bstub) -- (Broot);
% ================= Legend =================
\node[anchor=west,inner sep=0pt,font=\fontsize{7.2}{8}\selectfont] (legt) at (417,361) {Rate (/year/site)};
\shade[top color=legtop,bottom color=legbot,middle color=legmid] (418,369) rectangle (433,445);
\node[legtick] (lt8) at (438,374) {8e−05};
\node[legtick] (lt6) at (438,392) {6e−05};
\node[legtick] (lt4) at (438,410) {4e−05};
\node[legtick] (lt2) at (438,428) {2e−05};
\end{tikzpicture}
\end{document}
